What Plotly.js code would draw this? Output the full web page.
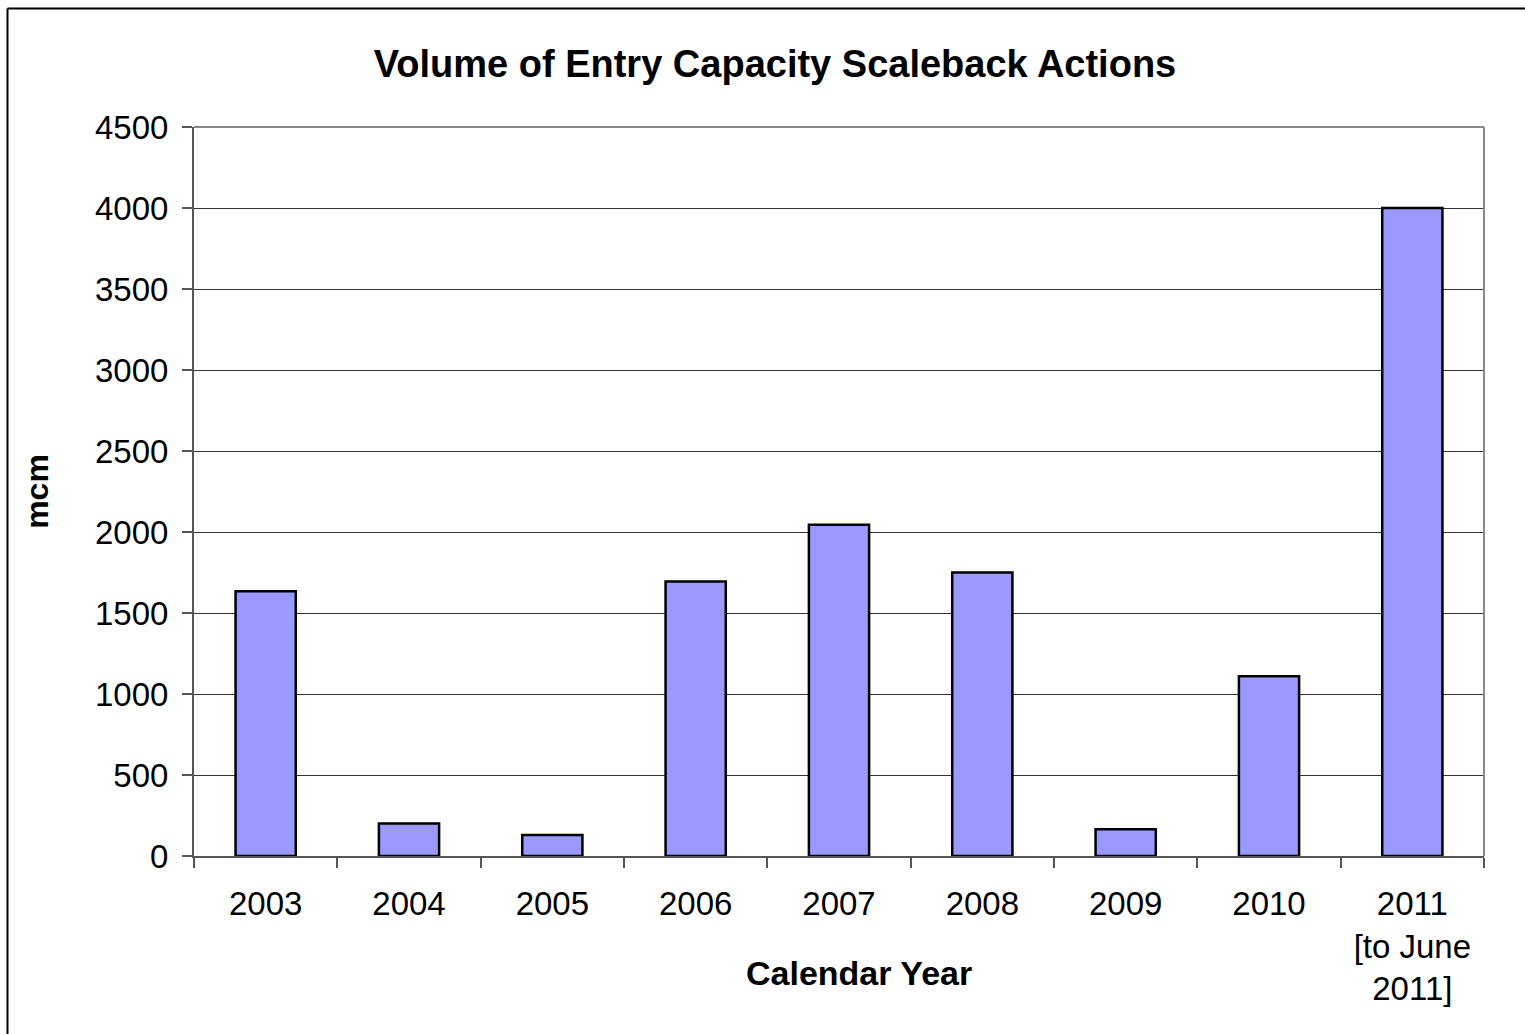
<!DOCTYPE html>
<html>
<head>
<meta charset="utf-8">
<script src="https://cdn.plot.ly/plotly-3.0.1.min.js"></script>
<style>
  html, body { margin: 0; padding: 0; background: #fff; }
  #chart { width: 1525px; height: 1034px; }
</style>
</head>
<body>
<div id="chart"></div>
<script>
// Values (mcm)
const years = ['2003', '2004', '2005', '2006', '2007', '2008', '2009', '2010', '2011<br>[to June<br>2011]'];
const volumes = [1635, 200, 130, 1695, 2045, 1750, 165, 1110, 4000];

const W = 1525, H = 1034;
const plotL = 194, plotR = 1484, plotT = 127, plotB = 856;
const pw = plotR - plotL, ph = plotB - plotT;

// helpers to turn page pixels into paper coords for the outer frame
const px = x => (x - plotL) / pw;
const py = y => (plotB - y) / ph;

const trace = {
    x: years,
    y: volumes,
    type: 'bar',
    marker: { color: '#9999ff', line: { color: '#000000', width: 2.5 } },
    hoverinfo: 'x+y'
};

const layout = {
    width: W,
    height: H,
    margin: { l: plotL, r: W - plotR, t: plotT, b: H - plotB, pad: 0 },
    paper_bgcolor: '#ffffff',
    plot_bgcolor: '#ffffff',
    showlegend: false,
    bargap: 0.58,
    font: { family: 'Liberation Sans, Arial, sans-serif', color: '#000000' },
    title: {
        text: '<b>Volume of Entry Capacity Scaleback Actions</b>',
        font: { size: 38, family: 'Liberation Sans, Arial, sans-serif', color: '#000' },
        x: 775 / W,
        xanchor: 'center',
        y: 1 - 64 / H,
        yanchor: 'middle'
    },
    xaxis: {
        type: 'category',
        tickson: 'boundaries',
        ticks: 'outside',
        ticklen: 10,
        tickwidth: 2,
        tickcolor: '#555555',
        showline: true,
        linecolor: '#555555',
        linewidth: 2,
        showgrid: false,
        tickfont: { size: 33 },
        ticklabelstandoff: 17,
        automargin: false
    },
    yaxis: {
        range: [0, 4500],
        dtick: 500,
        tick0: 0,
        ticks: 'outside',
        ticklen: 10,
        tickwidth: 2,
        tickcolor: '#555555',
        showline: true,
        linecolor: '#555555',
        linewidth: 2,
        showgrid: true,
        gridcolor: '#333333',
        gridwidth: 1,
        zeroline: false,
        tickfont: { size: 33 },
        ticklabelstandoff: 7,
        title: {
            text: '<b>mcm</b>',
            font: { size: 32 },
            standoff: 37
        },
        automargin: false,
        fixedrange: true
    },
    annotations: [
        {
            text: '<b>Calendar Year</b>',
            xref: 'paper', yref: 'paper',
            x: px(859), y: py(973),
            xanchor: 'center', yanchor: 'middle',
            showarrow: false,
            font: { size: 34 }
        }
    ],
    shapes: [
        // grey frame on top and right of the plot area
        { type: 'line', xref: 'paper', yref: 'paper', x0: 0, x1: 1, y0: 1, y1: 1,
          line: { color: '#888888', width: 2 } },
        { type: 'line', xref: 'paper', yref: 'paper', x0: 1, x1: 1, y0: 0, y1: 1,
          line: { color: '#888888', width: 2 } },
        // outer chart border (only left and top are visible)
        { type: 'line', xref: 'paper', yref: 'paper', x0: px(7.5), x1: px(7.5), y0: py(H + 5), y1: py(8.5),
          line: { color: '#000000', width: 2 } },
        { type: 'line', xref: 'paper', yref: 'paper', x0: px(7.5), x1: px(W + 5), y0: py(8.5), y1: py(8.5),
          line: { color: '#000000', width: 2 } }
    ]
};

Plotly.newPlot('chart', [trace], layout, { displayModeBar: false, staticPlot: true });
</script>
</body>
</html>
